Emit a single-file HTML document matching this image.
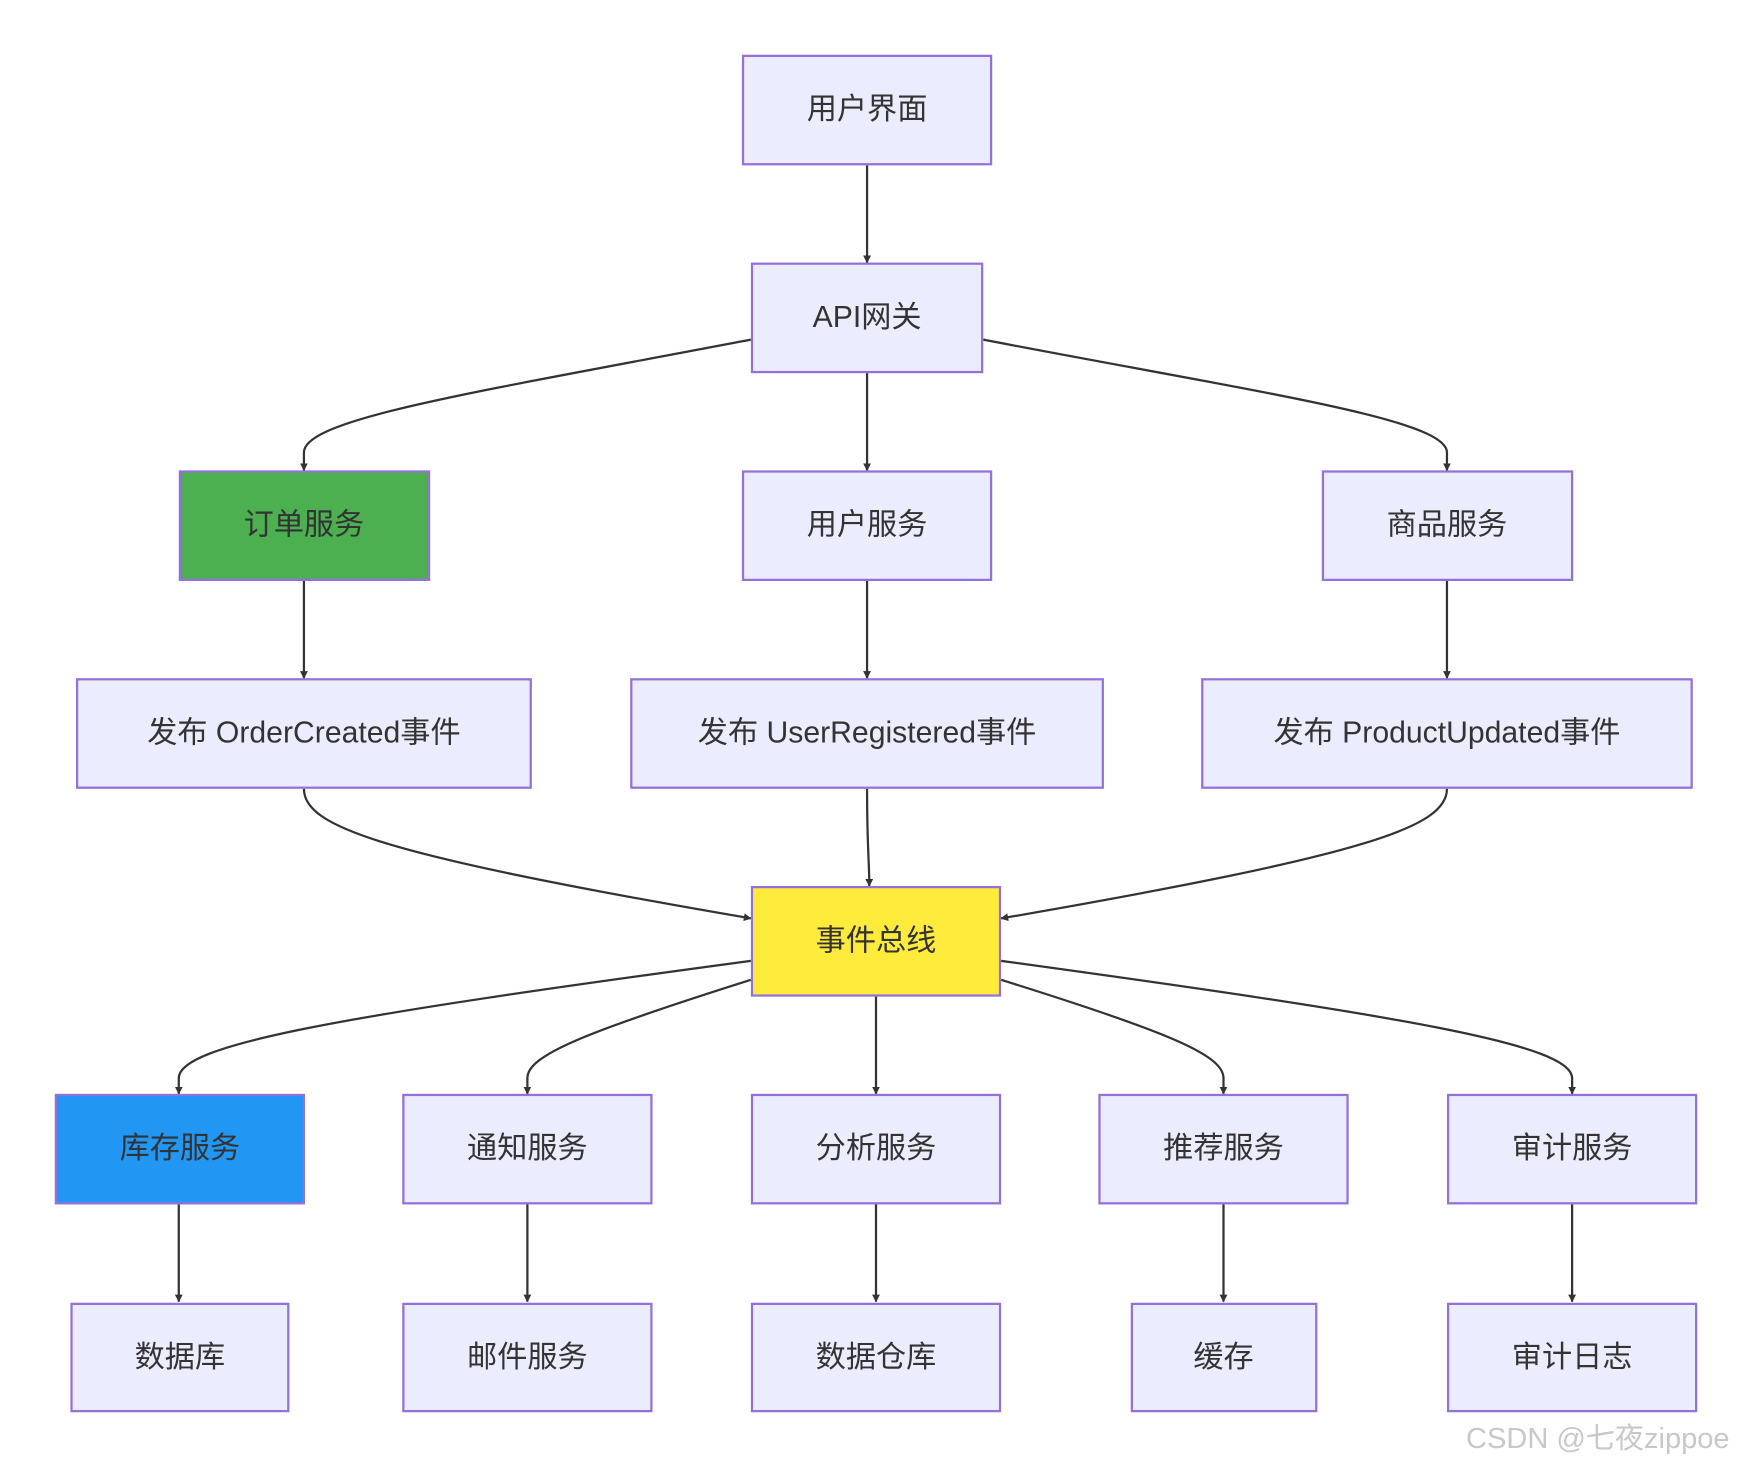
<!DOCTYPE html>
<html><head><meta charset="utf-8"><style>html,body{margin:0;padding:0;background:#fff}svg{display:block}</style></head><body>
<svg width="1752" height="1467" viewBox="0 0 1568 1313" preserveAspectRatio="none" xmlns="http://www.w3.org/2000/svg">
<defs><marker id="a" viewBox="0 0 10 10" refX="9" refY="5" markerWidth="7" markerHeight="7" markerUnits="userSpaceOnUse" orient="auto"><path d="M0,0L10,5L0,10z" fill="#333"/></marker>
<style>text{font-family:"Liberation Sans","Noto Sans CJK SC",sans-serif;font-size:27px;fill:#333;text-anchor:middle;dominant-baseline:central}</style></defs>
<g fill="none" stroke="#333" stroke-width="2" marker-end="url(#a)">
<path d="M776,148L776,235"/>
<path d="M776,334L776,421"/>
<path d="M672,304C420,352 272,375 272,405L272,421"/>
<path d="M880,304C1130,352 1295,375 1295,405L1295,421"/>
<path d="M272,520L272,607"/>
<path d="M776,520L776,607"/>
<path d="M1295,520L1295,607"/>
<path d="M272,706C272,740 340,765 672,822"/>
<path d="M776,706C776,760 778,770 778,793"/>
<path d="M1295,706C1295,740 1225,765 896,822"/>
<path d="M672,860C300,910 160,935 160,965L160,979"/>
<path d="M672,877C520,925 472,945 472,965L472,979"/>
<path d="M784,892L784,979"/>
<path d="M896,877C1050,925 1095,945 1095,965L1095,979"/>
<path d="M896,860C1260,910 1407,935 1407,965L1407,979"/>
<path d="M160,1078L160,1165"/>
<path d="M472,1078L472,1165"/>
<path d="M784,1078L784,1165"/>
<path d="M1095,1078L1095,1165"/>
<path d="M1407,1078L1407,1165"/>
</g>
<g stroke="#9370DB" stroke-width="2" fill="#ECECFF">
<rect x="665" y="50" width="222" height="97"/>
<rect x="673" y="236" width="206" height="97"/>
<rect x="161" y="422" width="223" height="97" fill="#4CAF50"/>
<rect x="665" y="422" width="222" height="97"/>
<rect x="1184" y="422" width="223" height="97"/>
<rect x="69" y="608" width="406" height="97"/>
<rect x="565" y="608" width="422" height="97"/>
<rect x="1076" y="608" width="438" height="97"/>
<rect x="673" y="794" width="222" height="97" fill="#FFEB3B"/>
<rect x="50" y="980" width="222" height="97" fill="#2196F3"/>
<rect x="361" y="980" width="222" height="97"/>
<rect x="673" y="980" width="222" height="97"/>
<rect x="984" y="980" width="222" height="97"/>
<rect x="1296" y="980" width="222" height="97"/>
<rect x="64" y="1167" width="194" height="96"/>
<rect x="361" y="1167" width="222" height="96"/>
<rect x="673" y="1167" width="222" height="96"/>
<rect x="1013" y="1167" width="165" height="96"/>
<rect x="1296" y="1167" width="222" height="96"/>
</g>
<text x="776" y="98">用户界面</text>
<text x="776" y="284">API网关</text>
<text x="272" y="470">订单服务</text>
<text x="776" y="470">用户服务</text>
<text x="1295" y="470">商品服务</text>
<text x="272" y="656">发布 OrderCreated事件</text>
<text x="776" y="656">发布 UserRegistered事件</text>
<text x="1295" y="656">发布 ProductUpdated事件</text>
<text x="784" y="842">事件总线</text>
<text x="161" y="1028">库存服务</text>
<text x="472" y="1028">通知服务</text>
<text x="784" y="1028">分析服务</text>
<text x="1095" y="1028">推荐服务</text>
<text x="1407" y="1028">审计服务</text>
<text x="161" y="1215">数据库</text>
<text x="472" y="1215">邮件服务</text>
<text x="784" y="1215">数据仓库</text>
<text x="1095" y="1215">缓存</text>
<text x="1407" y="1215">审计日志</text>
<text x="1430" y="1288" style="font-size:26px;fill:#c8c8c8">CSDN @七夜zippoe</text>
</svg>
</body></html>
